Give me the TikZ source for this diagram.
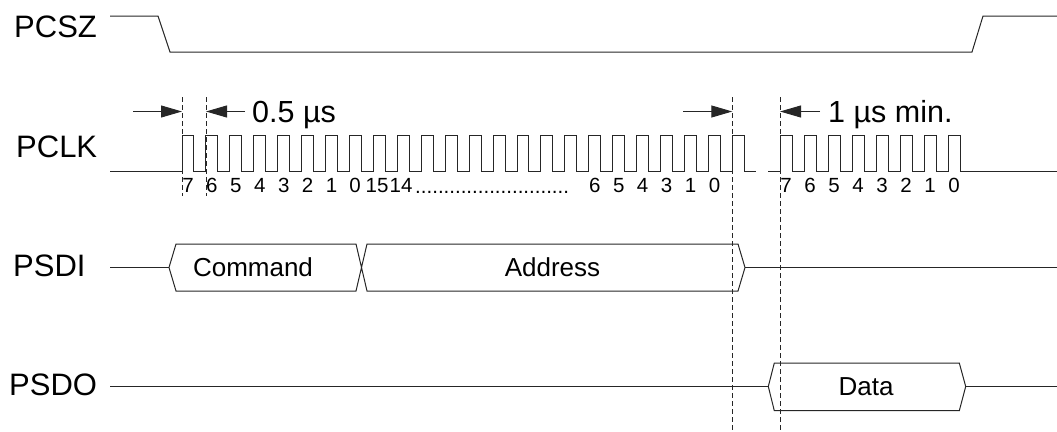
\documentclass[tikz,border=0pt]{standalone}
\usepackage{fontspec}
\setmainfont{Liberation Sans}
\usetikzlibrary{arrows.meta}
\begin{document}
\begin{tikzpicture}[x=1pt,y=-1pt,
  sig/.style={line width=1pt, draw=black!85, line join=miter},
  guide/.style={line width=0.9pt, draw=black!85, dash pattern=on 5pt off 3pt},
  lbl/.style={anchor=west, inner sep=0pt, font=\fontsize{31}{37}\selectfont},
  bit/.style={inner sep=0pt, font=\fontsize{20.5}{24}\selectfont},
  bustxt/.style={inner sep=0pt, font=\fontsize{26}{31}\selectfont},
  meastxt/.style={anchor=base west, inner sep=0pt, font=\fontsize{30.5}{36}\selectfont},
  meas/.style={line width=1pt, draw=black!85, -{Triangle[length=21pt,width=12pt]}},
]
\useasboundingbox (0,0) rectangle (1057,431);

% signal names
\node[lbl] (pcsz) at (14,26.5) {PCSZ};
\node[lbl] (pclk) at (16,146.5) {PCLK};
\node[lbl] (psdi) at (13,266) {PSDI};
\node[lbl] (psdo) at (9,385) {PSDO};

% PCSZ
\draw[sig] (110,16) -- (158,16) -- (170,52) -- (972,52) -- (983,16) -- (1057,16);

% PCLK, first burst (24 pulses)
\def\pa{23.93}
\draw[sig] (110,171.5) -- (182,171.5)
  \foreach \i in {0,...,23} { -- ++(0,-36.5) -- ++(\pa/2,0) -- ++(0,36.5) -- ++(\pa/2,0) };
% PCLK, second burst (8 pulses)
\draw[sig] (768,171.5) -- (780,171.5)
  \foreach \i in {0,...,7} { -- ++(0,-36.5) -- ++(12,0) -- ++(0,36.5) -- ++(12,0) }
  -- (1057,171.5);

% guide lines
\coordinate (g1t) at (182,97);  \coordinate (g1b) at (182,196);
\coordinate (g2t) at (206,97);  \coordinate (g2b) at (206,196);
\coordinate (g3t) at (732.3,97); \coordinate (g3b) at (732.3,431);
\coordinate (g4t) at (780,97);  \coordinate (g4b) at (780,431);
\draw[guide] (g1t) -- (g1b);
\draw[guide] (g2t) -- (g2b);
\draw[guide] (g3t) -- (g3b);
\draw[guide] (g4t) -- (g4b);

% measurement arrows
\coordinate (a1) at (133,111.5);
\coordinate (a2) at (245,111.5);
\coordinate (a3) at (683,111.5);
\coordinate (a4) at (820,111.5);
\draw[meas] (a1) -- (g1t |- a1);
\draw[meas] (a2) -- (g2t |- a2);
\draw[meas] (a3) -- (g3t |- a3);
\draw[meas] (a4) -- (g4t |- a4);
\node[meastxt] (t05) at (252,122) {0.5 µs};
\node[meastxt] (t1) at (828,122) {1 µs min.};

% bit numbers, first burst
\foreach \i/\b in {0/7,1/6,2/5,3/4,4/3,5/2,6/1,17/6,18/5,19/4,20/3,21/1,22/0} {
  \node[bit] (b\i) at ({182+\i*\pa+6},185.5) {\b};
}
\node[bit] (b7) at (355,185.5) {0};
\node[bit] (b8) at (377,185.5) {15};
\node[bit] (b9) at (401,185.5) {14};
\node[bit, anchor=base west] (dots) at (415,193) {...........................};
% bit numbers, second burst
\foreach \i/\b in {0/7,1/6,2/5,3/4,4/3,5/2,6/1,7/0} {
  \node[bit] (c\i) at ({786+\i*24},185.5) {\b};
}

% PSDI
\draw[sig] (110,267.5) -- (169,267.5);
\draw[sig] (169,267.5) -- (176,244) -- (356,244) -- (367,291) -- (738,291) -- (745,267.5)
  -- (738,244) -- (367,244) -- (356,291) -- (176,291) -- cycle;
\draw[sig] (745,267.5) -- (1057,267.5);
\node[bustxt] (cmd) at (253,267.5) {Command};
\node[bustxt] (addr) at (552.5,267.5) {Address};

% PSDO
\draw[sig] (110,386.5) -- (768.3,386.5);
\draw[sig] (768.3,386.5) -- (774.3,363) -- (959.3,363) -- (965.7,386.5) -- (959.3,410.7) -- (774.3,410.7) -- cycle;
\draw[sig] (965.7,386.5) -- (1057,386.5);
\node[bustxt] (data) at (866,386.5) {Data};
\end{tikzpicture}
\end{document}
